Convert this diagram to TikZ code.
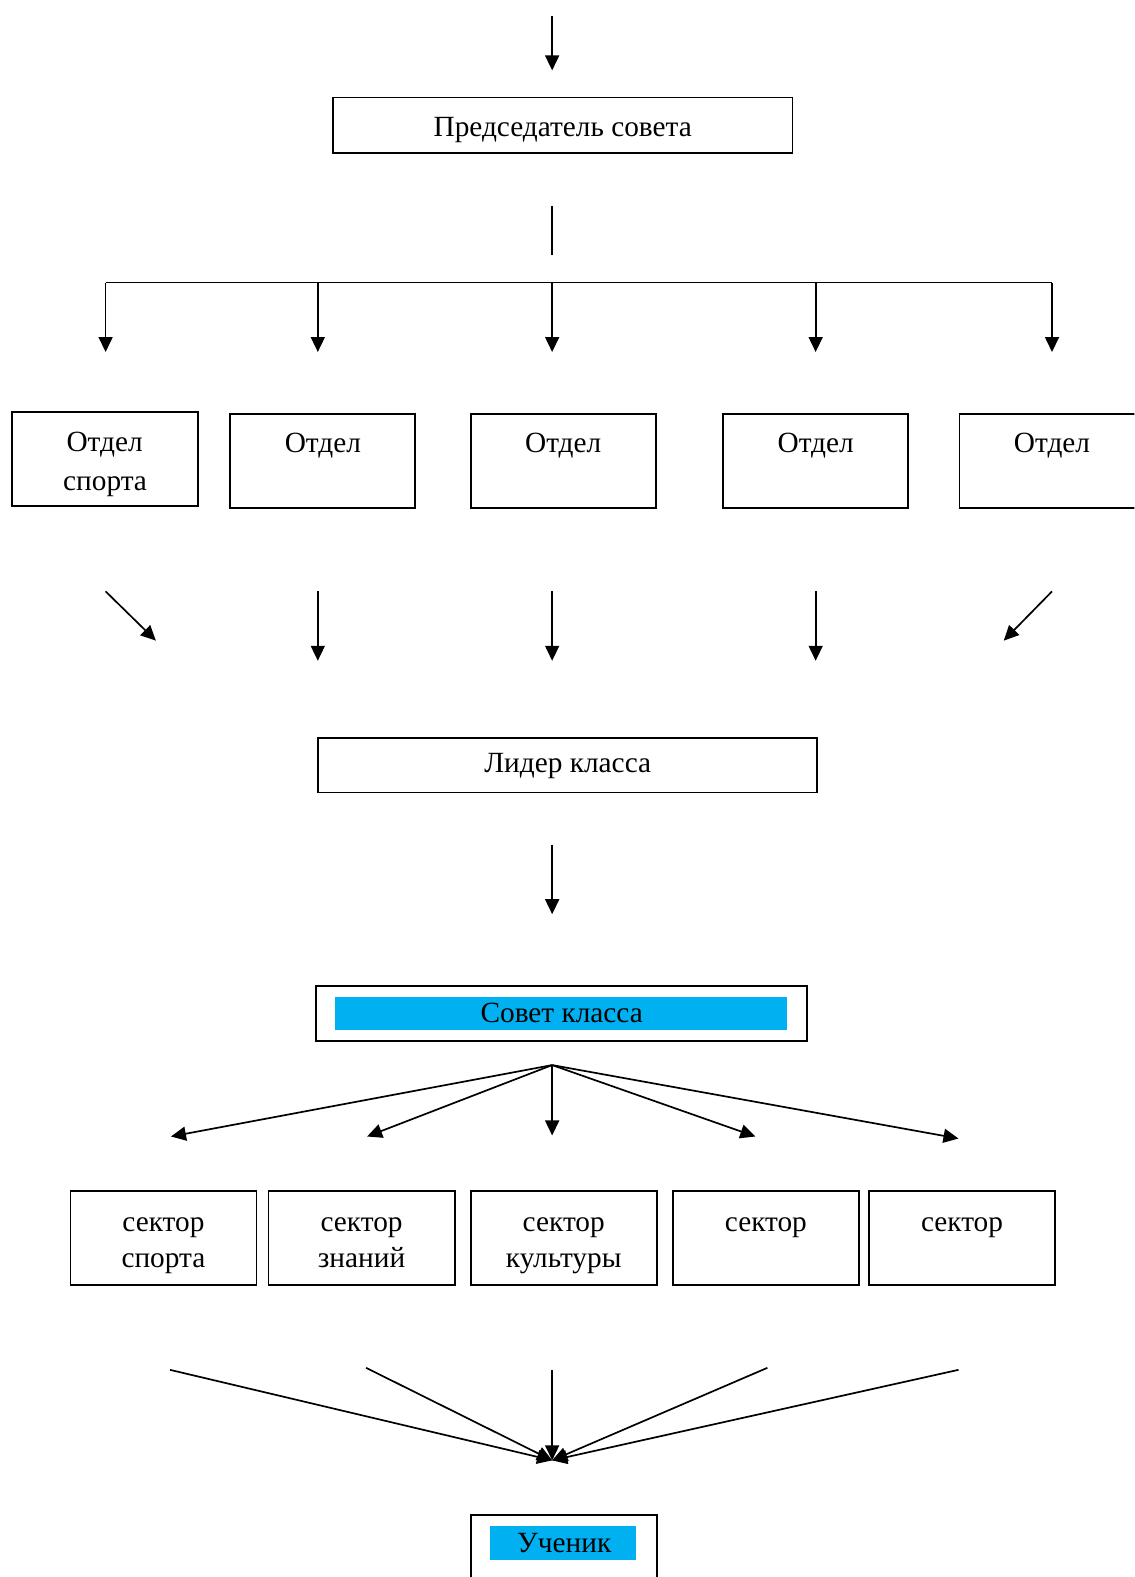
\documentclass[tikz,border=0pt]{standalone}
\usepackage{fontspec}
\setmainfont{Liberation Serif}
\usetikzlibrary{arrows.meta}
\definecolor{hl}{HTML}{00B0F0}
\def\pxu{0.5026pt}
\begin{document}
\begin{tikzpicture}[x=0.5026pt, y=-0.5026pt,
  box/.style={draw, line width=0.9pt, inner sep=0pt},
  hlbox/.style={fill=hl, draw=none, inner sep=0pt},
  txt/.style={anchor=base, inner sep=0pt, font=\fontsize{14.65}{19}\selectfont},
  arr/.style={line width=0.85pt, -{Triangle[length=7.5pt,width=7pt]}},
  ln/.style={line width=0.85pt}]
\fill[white] (0,0) rectangle (1128,1568);
\useasboundingbox (0,0) rectangle (1128,1568);
\clip (0,0) rectangle (1128,1568);

% boxes
\node[box, minimum width=457*\pxu, minimum height=55*\pxu] (pred) at (559.5,124.5) {};
\node[txt] (predt) at (559.5,136) {Председатель совета};

\node[box, minimum width=185*\pxu, minimum height=93*\pxu] (o1) at (104.5,456.5) {};
\node[box, minimum width=184*\pxu, minimum height=93*\pxu] (o2) at (321,458.5) {};
\node[box, minimum width=184*\pxu, minimum height=93*\pxu] (o3) at (560,458.5) {};
\node[box, minimum width=184*\pxu, minimum height=93*\pxu] (o4) at (811,458.5) {};
\node[box, minimum width=184*\pxu, minimum height=93*\pxu] (o5) at (1046,458.5) {};
\node[txt] (o1a) at (104,449.3) {Отдел};
\node[txt] (o1b) at (104.5,487.4) {спорта};
\node[txt] (o2a) at (321,450.3) {Отдел};
\node[txt] (o3a) at (560,450.3) {Отдел};
\node[txt] (o4a) at (811,450.3) {Отдел};
\node[txt] (o5a) at (1046,450.3) {Отдел};

\node[box, minimum width=496*\pxu, minimum height=54*\pxu] (lid) at (564,761) {};
\node[txt] (lidt) at (564.5,768.2) {Лидер класса};

\node[box, minimum width=488*\pxu, minimum height=55*\pxu] (sov) at (558,1007.5) {};
\node[hlbox, minimum width=449*\pxu, minimum height=32.5*\pxu] (sovh) at (557.5,1007.5) {};
\node[txt] (sovt) at (558.5,1016.3) {Совет класса};

\node[box, minimum width=185*\pxu, minimum height=94*\pxu] (s1) at (162.5,1231) {};
\node[box, minimum width=185*\pxu, minimum height=94*\pxu] (s2) at (359.5,1231) {};
\node[box, minimum width=185*\pxu, minimum height=94*\pxu] (s3) at (560.5,1231) {};
\node[box, minimum width=185*\pxu, minimum height=94*\pxu] (s4) at (761.5,1231) {};
\node[box, minimum width=185*\pxu, minimum height=94*\pxu] (s5) at (956.5,1231) {};
\node[txt] (s1a) at (162.5,1224.5) {сектор};
\node[txt] (s1b) at (162.5,1260) {спорта};
\node[txt] (s2a) at (359.5,1224.5) {сектор};
\node[txt] (s2b) at (359.5,1260) {знаний};
\node[txt] (s3a) at (560.5,1224.5) {сектор};
\node[txt] (s3b) at (560.5,1260) {культуры};
\node[txt] (s4a) at (761.5,1224.5) {сектор};
\node[txt] (s5a) at (956.5,1224.5) {сектор};

\node[box, minimum width=185*\pxu, minimum height=94*\pxu] (uch) at (560.5,1553) {};
\node[hlbox, minimum width=145*\pxu, minimum height=33.4*\pxu] (uchh) at (560,1534.4) {};
\node[txt] (ucht) at (561,1543.5) {Ученик};

% connectors
\coordinate (a0s) at (549,16); \coordinate (a0e) at (549,70);
\draw[arr] (a0s) -- (a0e);
\coordinate (l1s) at (549,205); \coordinate (l1e) at (549,254);
\draw[ln] (l1s) -- (l1e);
\coordinate (hL) at (105,281); \coordinate (hR) at (1046,281);
\draw[ln] (hL) -- (hR);
\foreach \x [count=\i] in {105,316,549,811,1046} {
  \coordinate (d\i s) at (\x,281); \coordinate (d\i e) at (\x,350);
  \draw[arr] (d\i s) -- (d\i e);
}
\coordinate (r1s) at (105,588); \coordinate (r1e) at (155,637);
\draw[arr] (r1s) -- (r1e);
\foreach \x [count=\i from 2] in {316,549,811} {
  \coordinate (r\i s) at (\x,588); \coordinate (r\i e) at (\x,657);
  \draw[arr] (r\i s) -- (r\i e);
}
\coordinate (r5s) at (1046,588); \coordinate (r5e) at (998,637);
\draw[arr] (r5s) -- (r5e);

\coordinate (ls) at (549,840); \coordinate (le) at (549,909);
\draw[arr] (ls) -- (le);

\coordinate (fan) at (549,1059);
\foreach \x/\y [count=\i] in {170/1130,365/1130,549/1129,751/1130,953/1132} {
  \coordinate (f\i) at (\x,\y);
  \draw[arr] (fan) -- (f\i);
}

\coordinate (conv) at (549,1452);
\foreach \x/\y [count=\i] in {169/1362,364/1360,549/1362,763/1360,953/1362} {
  \coordinate (c\i) at (\x,\y);
  \draw[arr] (c\i) -- (conv);
}
\end{tikzpicture}
\end{document}
